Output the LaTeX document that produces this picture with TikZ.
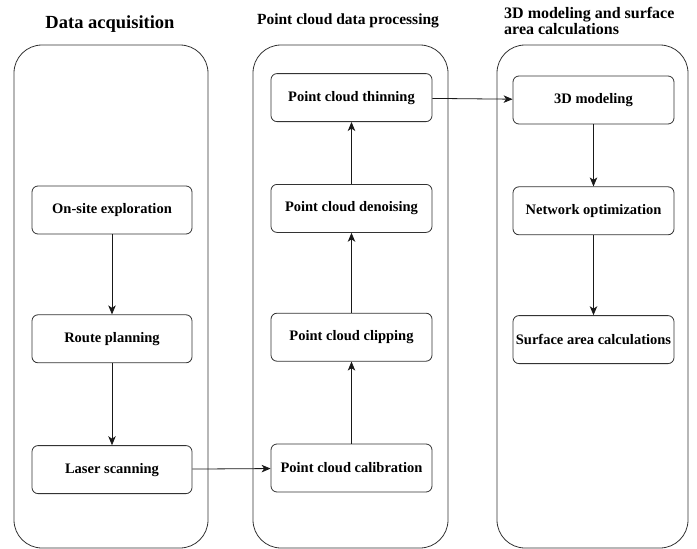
\documentclass[tikz,border=0pt]{standalone}
\usepackage{fontspec}
\setmainfont{Liberation Serif}
\usepackage{tikz}
\usetikzlibrary{arrows.meta,positioning}

\begin{document}
\begin{tikzpicture}[x=1pt,y=-1pt,auto,>={Stealth[length=9pt,width=7.5pt,inset=2.5pt]}]
	\tikzstyle{lane} = [draw=black!80, line width=0.8pt, rectangle, rounded corners=28pt, minimum height=503pt]
	\tikzstyle{block} = [draw=black!80, line width=0.8pt, rectangle, rounded corners=6pt, minimum height=48pt, minimum width=161pt, inner sep=0pt, font=\fontsize{14.5}{17}\selectfont\bfseries]
	\tikzstyle{title} = [inner sep=0pt, align=left]
	\tikzstyle{flow} = [->, line width=0.8pt, black!90]
	\useasboundingbox (0,0) rectangle (697,549);
	
	% swimlanes
	\node [lane, minimum width=194pt] (acq) at (111,296.5) {};
	\node [lane, minimum width=195pt] (proc) at (350.5,296.5) {};
	\node [lane, minimum width=191pt] (model) at (592.5,296.5) {};
	
	\node [title, font=\fontsize{18.5}{20}\selectfont\bfseries] (tacq) at (110,24) {Data acquisition};
	\node [title, font=\fontsize{15.5}{17}\selectfont\bfseries] (tproc) at (348,21) {Point cloud data processing};
	\node [title, anchor=west, font=\fontsize{16}{16.5}\selectfont\bfseries] (tmodel) at (504,21) {3D modeling and surface\\area calculations};
	
	% data acquisition
	\node [block, minimum width=160pt] (explore) at (112,210) {On-site exploration};
	\node [block, minimum width=160pt, below = 80pt of explore] (route) {Route planning};
	\node [block, minimum width=160pt, below = 82pt of route] (laser) {Laser scanning};
	
	% point cloud processing
	\node [block] (calib) at (351.5,468) {Point cloud calibration};
	\node [block, above = 82pt of calib] (clip) {Point cloud clipping};
	\node [block, above = 80pt of clip] (denoise) {Point cloud denoising};
	\node [block, above = 62pt of denoise] (thin) {Point cloud thinning};
	
	% modeling and area
	\node [block] (mesh) at (593.5,100) {3D modeling};
	\node [block, below = 62pt of mesh] (optim) {Network optimization};
	\node [block, below = 80pt of optim] (area) {Surface area calculations};
	
	\draw [flow] (explore) -- (route);
	\draw [flow] (route) -- (laser);
	\draw [flow] (laser) -- (calib);
	\draw [flow] (calib) -- (clip);
	\draw [flow] (clip) -- (denoise);
	\draw [flow] (denoise) -- (thin);
	\draw [flow] (thin) -- (mesh);
	\draw [flow] (mesh) -- (optim);
	\draw [flow] (optim) -- (area);
	
\end{tikzpicture}
\end{document}
